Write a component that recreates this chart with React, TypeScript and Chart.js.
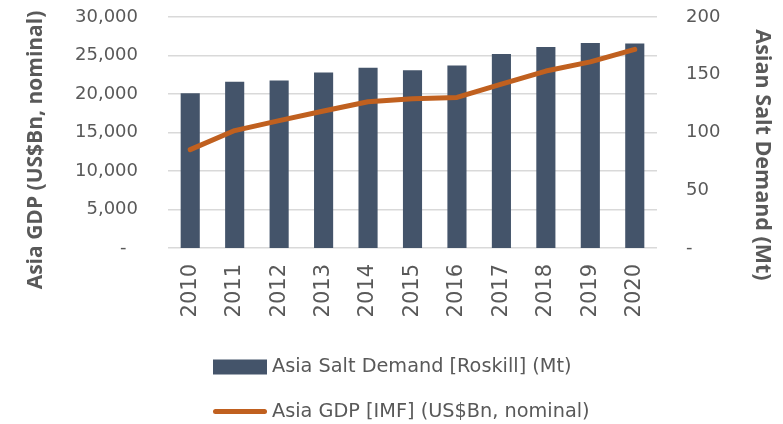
import { useEffect, useRef } from 'react';
import { Chart, registerables } from 'chart.js';

Chart.register(...registerables);

// ---- data ----
const years = ['2010', '2011', '2012', '2013', '2014', '2015', '2016', '2017', '2018', '2019', '2020'];
const saltDemandMt = [134, 144, 145, 152, 156, 154, 158, 168, 174, 177.5, 177];
const gdpUSDbn = [12770, 15250, 16550, 17800, 19000, 19370, 19550, 21270, 22980, 24170, 25800];

const saltLabel = 'Asia Salt Demand [Roskill] (Mt)';
const gdpLabel = 'Asia GDP [IMF] (US$Bn, nominal)';
const leftTitle = 'Asia GDP (US$Bn, nominal)';
const rightTitle = 'Asian Salt Demand (Mt)';

const gdpAxisMax = 30000;
const gdpAxisStep = 5000;
const saltAxisMax = 200;
const saltAxisStep = 50;

// ---- style ----
const BAR_COLOR = '#44546A';
const LINE_COLOR = '#C0601F';
const TEXT_COLOR = '#595959';
const GRID_COLOR = '#d9d9d9';
const TICK_FONT = 'DejaVu Sans';
const TITLE_FONT = 'Open Sans';

const overlayPlugin = {
  id: 'overlay',
  afterDraw(chart: any) {
    const ctx: CanvasRenderingContext2D = chart.ctx;
    ctx.save();
    ctx.fillStyle = TEXT_COLOR;
    ctx.textAlign = 'center';
    ctx.textBaseline = 'middle';
    // left axis title
    ctx.font = `bold 21px "${TITLE_FONT}"`;
    ctx.save();
    ctx.translate(36, 150);
    ctx.rotate(-Math.PI / 2);
    ctx.fillText(leftTitle, 0, 0);
    ctx.restore();
    // right axis title
    ctx.font = `bold 21.5px "${TITLE_FONT}"`;
    ctx.save();
    ctx.translate(762, 155);
    ctx.rotate(Math.PI / 2);
    ctx.fillText(rightTitle, 0, 0);
    ctx.restore();

    // legend
    const lx = 213;
    const rows = [367, 412];
    ctx.textAlign = 'left';
    ctx.font = `19.3px "${TICK_FONT}"`;
    chart.data.datasets.forEach((ds: any, i: number) => {
      const y = rows[i];
      if (ds.type === 'bar') {
        ctx.fillStyle = ds.backgroundColor;
        ctx.fillRect(lx, y - 7.5, 54, 15);
      } else {
        ctx.strokeStyle = ds.borderColor;
        ctx.lineWidth = 5;
        ctx.lineCap = 'round';
        ctx.beginPath();
        ctx.moveTo(lx + 2.5, y - 0.5);
        ctx.lineTo(lx + 51.5, y - 0.5);
        ctx.stroke();
      }
      ctx.fillStyle = TEXT_COLOR;
      ctx.fillText(ds.label, lx + 59, y);
    });
    ctx.restore();
  },
};

export default function App() {
  const ref = useRef<HTMLCanvasElement>(null);

  useEffect(() => {
    const canvas = ref.current;
    if (!canvas) return;
    const chart = new Chart(canvas, {
      data: {
        labels: years,
        datasets: [
          {
            type: 'bar',
            label: saltLabel,
            data: saltDemandMt,
            backgroundColor: BAR_COLOR,
            yAxisID: 'ySalt',
            categoryPercentage: 1,
            barPercentage: 0.43,
            order: 2,
          },
          {
            type: 'line',
            label: gdpLabel,
            data: gdpUSDbn,
            borderColor: LINE_COLOR,
            backgroundColor: LINE_COLOR,
            borderWidth: 5,
            borderCapStyle: 'round',
            borderJoinStyle: 'round',
            pointRadius: 0,
            tension: 0,
            yAxisID: 'yGdp',
            order: 1,
          },
        ],
      } as any,
      options: {
        responsive: false,
        animation: false,
        devicePixelRatio: 1,
        layout: { padding: { top: 17, bottom: 104, left: 0, right: 0 } },
        plugins: { legend: { display: false }, tooltip: { enabled: false } },
        scales: {
          x: {
            grid: { display: false, drawTicks: false },
            border: { display: false },
            ticks: {
              color: TEXT_COLOR,
              font: { family: TICK_FONT, size: 21 },
              minRotation: 90,
              maxRotation: 90,
              autoSkip: false,
              padding: 16,
            },
            afterFit: (s: any) => {
              s.height = 72;
              s.paddingLeft = 0;
              s.paddingRight = 0;
            },
          },
          yGdp: {
            position: 'left',
            min: 0,
            max: gdpAxisMax,
            grid: { color: GRID_COLOR, lineWidth: 1.5, drawTicks: false },
            border: { display: false },
            ticks: {
              stepSize: gdpAxisStep,
              color: TEXT_COLOR,
              font: { family: TICK_FONT, size: 18 },
              padding: 30,
              callback: (v: any) => (Number(v) === 0 ? '-  ' : Number(v).toLocaleString('en-US')),
            },
            afterFit: (s: any) => {
              s.width = 168;
              s.paddingTop = 0;
              s.paddingBottom = 0;
            },
          },
          ySalt: {
            position: 'right',
            min: 0,
            max: saltAxisMax,
            grid: { display: false, drawTicks: false },
            border: { display: false },
            ticks: {
              stepSize: saltAxisStep,
              color: TEXT_COLOR,
              font: { family: TICK_FONT, size: 18 },
              padding: 29,
              callback: (v: any) => (Number(v) === 0 ? '-' : String(v)),
            },
            afterFit: (s: any) => {
              s.width = 126;
              s.paddingTop = 0;
              s.paddingBottom = 0;
            },
          },
        },
      } as any,
      plugins: [overlayPlugin],
    });
    return () => chart.destroy();
  }, []);

  return (
    <div style={{ position: 'fixed', left: 0, top: 0, width: 783, height: 424, background: '#ffffff' }}>
      <canvas ref={ref} width={783} height={424} style={{ display: 'block', width: '783px', height: '424px' }} />
    </div>
  );
}
